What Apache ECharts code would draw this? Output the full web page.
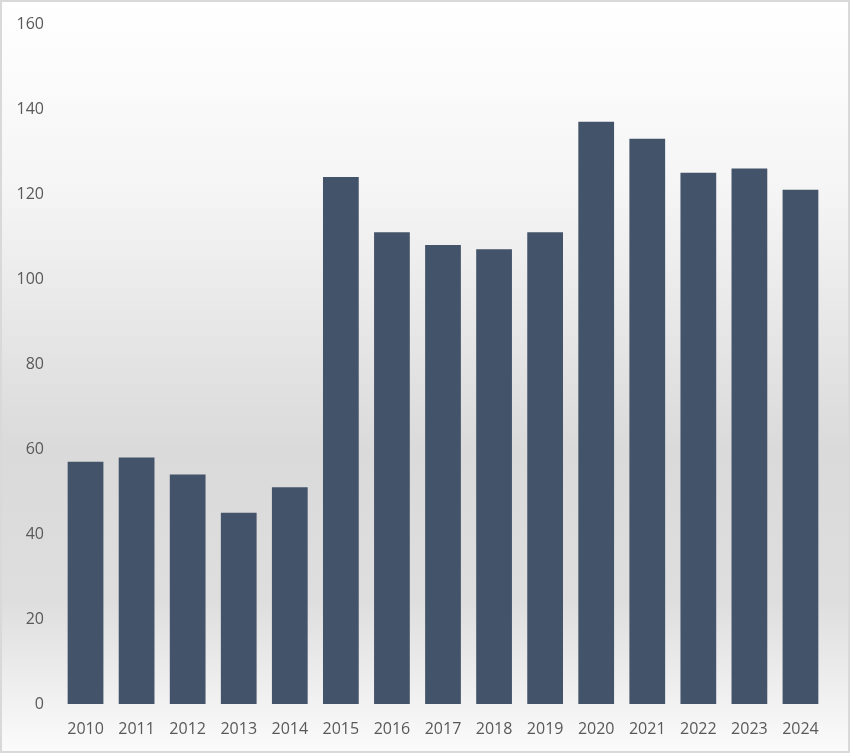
<!DOCTYPE html>
<html><head><meta charset="utf-8">
<script src="https://cdn.jsdelivr.net/npm/echarts@6/dist/echarts.min.js"></script>
<style>html,body{margin:0;padding:0;background:#fff}#c{width:850px;height:753px;box-sizing:border-box;border:2px solid #d9d9d9;}</style>
</head><body><div id="c"></div>
<script>
var categories = ['2010','2011','2012','2013','2014','2015','2016','2017','2018','2019','2020','2021','2022','2023','2024'];
var values = [57,58,54,45,51,124,111,108,107,111,137,133,125,126,121];
var yTicks = {min:0, max:160, interval:20};

var chart = echarts.init(document.getElementById('c'));
chart.setOption({
  animation:false,
  backgroundColor: new echarts.graphic.LinearGradient(0,0,0,1,[
    {offset:0,color:'#ffffff'},
    {offset:0.25,color:'#f5f5f5'},
    {offset:0.6,color:'#dadada'},
    {offset:0.8,color:'#dedede'},
    {offset:1,color:'#fbfbfb'}
  ]),
  grid:{left:58,right:22,top:22,bottom:47,containLabel:false},
  xAxis:{type:'category',data:categories,
    axisLine:{show:false},axisTick:{show:false},
    axisLabel:{color:'#595959',fontSize:16,fontFamily:'Open Sans',margin:17}},
  yAxis:{type:'value',min:yTicks.min,max:yTicks.max,interval:yTicks.interval,
    splitLine:{show:false},axisLine:{show:false},axisTick:{show:false},
    axisLabel:{color:'#595959',fontSize:16,fontFamily:'Open Sans',margin:16}},
  series:[{type:'bar',data:values,barWidth:'70%',
    itemStyle:{color:'#435369'}}]
});
</script></body></html>
